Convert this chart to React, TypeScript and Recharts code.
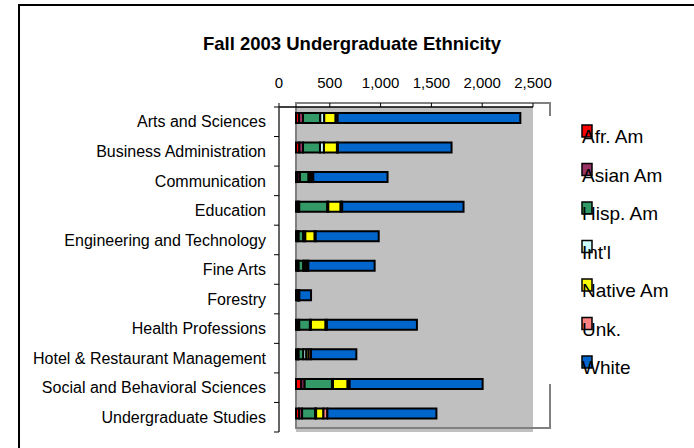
import React from 'react';
import { BarChart, Bar, XAxis, YAxis, ReferenceArea, Legend, Rectangle } from 'recharts';

const CATEGORIES = [
  'Arts and Sciences',
  'Business Administration',
  'Communication',
  'Education',
  'Engineering and Technology',
  'Fine Arts',
  'Forestry',
  'Health Professions',
  'Hotel & Restaurant Management',
  'Social and Behavioral Sciences',
  'Undergraduate Studies',
];

const SERIES_NAMES = ['Afr. Am', 'Asian Am', 'Hisp. Am', "Int'l", 'Native Am', 'Unk.', 'White'];

const AFR_AM = [30, 33, 16, 16, 13, 13, 10, 16, 13, 52, 30];
const ASIAN_AM = [39, 36, 23, 16, 13, 13, 7, 16, 13, 33, 30];
const HISP_AM = [170, 167, 85, 276, 46, 46, 7, 105, 46, 269, 128];
const INTL = [39, 39, 13, 10, 20, 13, 3, 10, 30, 10, 10];
const NATIVE_AM = [112, 128, 20, 121, 92, 20, 3, 144, 23, 144, 72];
const UNK = [20, 10, 13, 16, 10, 16, 3, 13, 23, 20, 39];
const WHITE = [1798, 1118, 731, 1194, 620, 653, 115, 886, 446, 1309, 1073];

const X_TICKS = [0, 500, 1000, 1500, 2000, 2500];

const SERIES_VALUES = [AFR_AM, ASIAN_AM, HISP_AM, INTL, NATIVE_AM, UNK, WHITE];
const KEYS = ['afr', 'asian', 'hisp', 'intl', 'native', 'unk', 'white'];
const COLORS = ['#FF0000', '#993366', '#339966', '#CCFFFF', '#FFFF00', '#FF8080', '#0066CC'];

const data = CATEGORIES.map((name, i) => {
  const row: any = { name };
  KEYS.forEach((k, j) => {
    row[k] = SERIES_VALUES[j][i];
  });
  return row;
});

// layout constants
const W = 694;
const H = 448;
const PLOT_LEFT = 279;
const PLOT_RIGHT = 533;
const PLOT_TOP = 107;
const PLOT_BOTTOM = 432;
const Y_AXIS_W = 60;
const X_AXIS_H = 30;
const AXIS_MAX = 2500;
const DEPTH_X = 17; // 3D back-wall shift (px)
const DEPTH_Y = 4;
const UNITS_PER_PX = AXIS_MAX / (PLOT_RIGHT - PLOT_LEFT);
const BACK_MIN = -DEPTH_X * UNITS_PER_PX;
const BACK_MAX = AXIS_MAX + BACK_MIN;
const BAND = (PLOT_BOTTOM - PLOT_TOP) / CATEGORIES.length;
const FONT = '"Liberation Sans", Arial, Helvetica, sans-serif';

const BackBar = (p: any) => <Rectangle {...p} y={p.y - DEPTH_Y} />;
const BackBox = (p: any) => <Rectangle {...p} y={p.y - DEPTH_Y} />;

const CatTick = (props: any) => {
  const { y, payload, index } = props;
  const axisX = PLOT_LEFT;
  return (
    <g>
      <text x={axisX - 13} y={y} dy="0.355em" textAnchor="end" fontSize={16} fill="#000" fontFamily={FONT}>
        {payload.value}
      </text>
      <line x1={axisX - 5} x2={axisX} y1={y - BAND / 2} y2={y - BAND / 2} stroke="#000" strokeWidth={1} />
      {index === CATEGORIES.length - 1 && (
        <line x1={axisX - 5} x2={axisX} y1={y + BAND / 2} y2={y + BAND / 2} stroke="#000" strokeWidth={1} />
      )}
    </g>
  );
};

const renderLegend = (props: any) => {
  const payload = props.payload || [];
  return (
    <svg width={146} height={268} style={{ display: 'block' }}>
      {payload.map((entry: any, i: number) => {
        const base = 27 + i * 38.5;
        return (
          <g key={i}>
            <rect x={34} y={base - 18} width={10} height={12} fill={entry.color} stroke="#000" strokeWidth={1.5} />
            <text x={34} y={base} fontSize={19} fill="#000" fontFamily={FONT}>
              {entry.value}
            </text>
          </g>
        );
      })}
    </svg>
  );
};

export default function App() {
  return (
    <div
      style={{
        position: 'absolute',
        left: 0,
        top: 0,
        width: W,
        height: H,
        overflow: 'hidden',
        background: '#fff',
        fontFamily: FONT,
      }}
    >
      <div
        style={{
          position: 'absolute',
          left: 18,
          top: 4,
          width: 900,
          height: 700,
          borderLeft: '2px solid #000',
          borderTop: '2px solid #000',
        }}
      />
      <div
        style={{
          position: 'absolute',
          left: 0,
          top: 35,
          width: 704,
          textAlign: 'center',
          fontSize: 18.5,
          lineHeight: '18px',
          fontWeight: 'bold',
          color: '#000',
        }}
      >
        Fall 2003 Undergraduate Ethnicity
      </div>
      <div style={{ position: 'absolute', left: 0, top: 0 }}>
        <BarChart
          width={W}
          height={H}
          data={data}
          layout="vertical"
          margin={{
            top: PLOT_TOP - X_AXIS_H,
            left: PLOT_LEFT - Y_AXIS_W,
            right: W - PLOT_RIGHT,
            bottom: H - PLOT_BOTTOM,
          }}
        >
          <XAxis
            xAxisId="front"
            type="number"
            orientation="top"
            domain={[0, AXIS_MAX]}
            ticks={X_TICKS}
            height={X_AXIS_H}
            tickSize={4}
            tickMargin={15}
            tickFormatter={(v: number) => v.toLocaleString('en-US')}
            tick={{ fill: '#000', fontSize: 15, fontFamily: FONT }}
            axisLine={{ stroke: '#000', strokeWidth: 1.5 }}
            tickLine={{ stroke: '#000' }}
            allowDataOverflow
          />
          <XAxis
            xAxisId="back"
            type="number"
            domain={[BACK_MIN, BACK_MAX]}
            allowDataOverflow
            hide
          />
          <YAxis
            type="category"
            dataKey="name"
            width={Y_AXIS_W}
            interval={0}
            tickSize={5}
            tickMargin={8}
            tickLine={false}
            axisLine={{ stroke: '#333', strokeWidth: 1.5 }}
            tick={<CatTick />}
          />
          <ReferenceArea xAxisId="back" x1={0} x2={BACK_MAX} fill="#C0C0C0" fillOpacity={1} stroke="none" />
          <ReferenceArea
            xAxisId="back"
            x1={0}
            x2={AXIS_MAX}
            ifOverflow="visible"
            fill="none"
            fillOpacity={0}
            stroke="#808080"
            strokeWidth={2}
            shape={BackBox}
          />
          {KEYS.map((k, j) => (
            <Bar
              key={k}
              dataKey={k}
              name={SERIES_NAMES[j]}
              stackId="s"
              xAxisId="back"
              fill={COLORS[j]}
              stroke="#000"
              strokeWidth={2}
              barSize={10}
              isAnimationActive={false}
              shape={BackBar}
            />
          ))}
          <Legend
            layout="horizontal"
            verticalAlign="middle"
            align="center"
            content={renderLegend}
            wrapperStyle={{
              position: 'absolute',
              left: 548,
              top: 116,
              width: 146,
              height: 268,
              background: '#fff',
              margin: 0,
              padding: 0,
            }}
          />
        </BarChart>
      </div>
    </div>
  );
}
